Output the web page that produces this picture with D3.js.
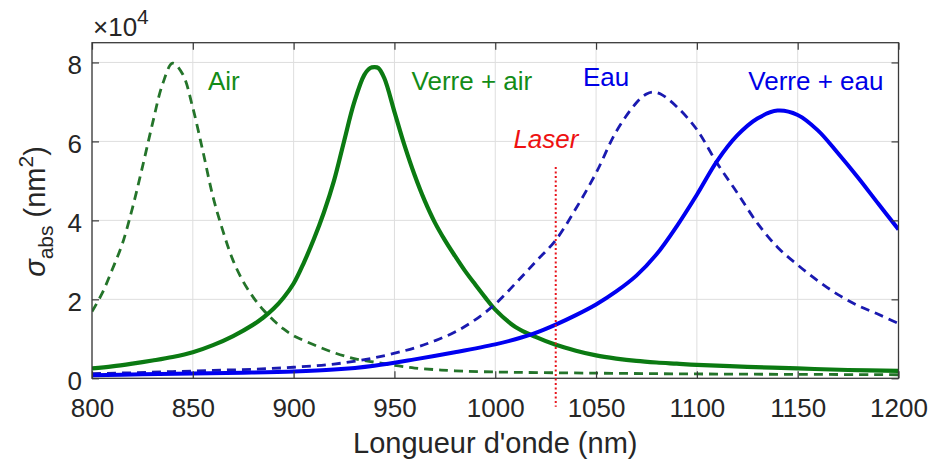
<!DOCTYPE html>
<html>
<head>
<meta charset="utf-8">
<script src="https://cdn.jsdelivr.net/npm/d3@7"></script>
<style>
  html, body { margin: 0; padding: 0; background: #fff; }
  svg { display: block; font-family: "Liberation Sans", Arial, sans-serif; }
</style>
</head>
<body>
<svg id="chart" width="931" height="462"></svg>
<script>
// ---------- data (absorption cross-section, ×10^4 nm²) ----------
const xTicks = [800, 850, 900, 950, 1000, 1050, 1100, 1150, 1200];
const yTicks = [0, 2, 4, 6, 8];
const xDomain = [800, 1200];
const yDomain = [0, 8.5];

// Air (dashed green)
const airNm  = [800,805,810,815,820,825,830,835,840,845,850,855,860,865,870,875,880,885,890,895,900,910,920,930,940,950,960,970,980,1000,1050,1100,1150,1200];
const airVal = [1.69,2.15,2.75,3.4,4.3,5.35,6.45,7.45,7.98,7.7,6.85,5.75,4.6,3.72,2.98,2.45,2.05,1.73,1.47,1.25,1.08,0.85,0.65,0.5,0.41,0.33,0.26,0.22,0.19,0.16,0.13,0.11,0.1,0.09];

// Verre + air (solid green)
const verreAirNm  = [800,810,820,830,840,850,860,870,880,885,890,895,900,905,910,915,920,925,930,935,938,940,942,945,950,955,960,965,970,975,980,985,990,995,1000,1010,1020,1030,1040,1050,1060,1070,1080,1090,1100,1125,1150,1175,1200];
const verreAirVal = [0.25,0.3,0.37,0.45,0.54,0.66,0.84,1.07,1.36,1.54,1.76,2.04,2.4,2.92,3.52,4.2,5.0,6.0,6.98,7.68,7.86,7.88,7.86,7.6,6.75,5.9,5.15,4.5,3.95,3.5,3.1,2.72,2.38,2.05,1.74,1.3,1.05,0.85,0.7,0.58,0.5,0.44,0.4,0.37,0.34,0.29,0.25,0.21,0.19];

// Eau (dashed blue)
const eauNm  = [800,820,840,860,880,900,920,940,960,970,980,990,1000,1010,1020,1030,1040,1050,1060,1070,1075,1078,1082,1090,1100,1110,1120,1130,1140,1150,1160,1170,1180,1190,1200];
const eauVal = [0.12,0.14,0.17,0.2,0.23,0.28,0.36,0.52,0.77,0.95,1.17,1.48,1.88,2.4,2.95,3.5,4.3,5.2,6.25,6.98,7.2,7.25,7.2,6.88,6.3,5.45,4.7,3.93,3.32,2.87,2.47,2.12,1.84,1.62,1.39];

// Verre + eau (solid blue)
const verreEauNm  = [800,825,850,875,900,920,940,960,980,1000,1010,1020,1030,1040,1050,1060,1070,1080,1090,1100,1110,1120,1130,1140,1150,1160,1170,1180,1190,1200];
const verreEauVal = [0.08,0.1,0.12,0.14,0.17,0.22,0.32,0.48,0.66,0.86,0.99,1.15,1.36,1.6,1.87,2.2,2.6,3.14,3.85,4.65,5.5,6.15,6.58,6.78,6.67,6.28,5.7,5.08,4.42,3.77];

// Laser line
const laserNm = 1030;
const laserRange = [-0.72, 5.35];

// Curve labels
const labels = [
  { text: "Air",          nm: 857.5, v: 7.3 },
  { text: "Verre + air",  nm: 958.5, v: 7.3 },
  { text: "Eau",          nm: 1043.5, v: 7.4 },
  { text: "Verre + eau",  nm: 1125.5, v: 7.3 },
  { text: "Laser",        nm: 1009.0, v: 5.83 }
];

// ---------- drawing ----------
const svg = d3.select("#chart");
const L = 92, R = 898.5, T = 42.7, B = 378.3;

const x = d3.scaleLinear().domain(xDomain).range([L, R]);
const y = d3.scaleLinear().domain(yDomain).range([B, T]);

const axisColor = "#3a3a3a";
const textColor = "#262626";

// grid
const grid = svg.append("g");
grid.selectAll(".gx").data(xTicks).join("line")
  .attr("x1", d => x(d)).attr("x2", d => x(d)).attr("y1", T).attr("y2", B)
  .attr("stroke", "#dedede").attr("stroke-width", 1);
grid.selectAll(".gy").data(yTicks).join("line")
  .attr("x1", L).attr("x2", R).attr("y1", d => y(d)).attr("y2", d => y(d))
  .attr("stroke", "#dedede").attr("stroke-width", 1);

// clip
svg.append("clipPath").attr("id", "clip").append("rect")
  .attr("x", L).attr("y", T).attr("width", R - L).attr("height", B - T);

const line = d3.line().x(d => x(d[0])).y(d => y(d[1])).curve(d3.curveCatmullRom.alpha(0.5));
const zip = (a, b) => a.map((v, i) => [v, b[i]]);

const series = [
  { nm: airNm, val: airVal, color: "#24742a", width: 2.8, dash: "9,6" },
  { nm: verreAirNm, val: verreAirVal, color: "#0b7a12", width: 4.2, dash: null },
  { nm: eauNm, val: eauVal, color: "#1a1ab0", width: 2.8, dash: "9,6" },
  { nm: verreEauNm, val: verreEauVal, color: "#0000f0", width: 4.0, dash: null }
];

const lines = svg.append("g").attr("clip-path", "url(#clip)");
series.forEach(s => {
  lines.append("path")
    .attr("d", line(zip(s.nm, s.val)))
    .attr("fill", "none")
    .attr("stroke", s.color)
    .attr("stroke-width", s.width)
    .attr("stroke-dasharray", s.dash)
    .attr("stroke-linejoin", "round");
});

// axes box and ticks (inward ticks on all sides)
const axG = svg.append("g");
const tickLen = 7;
axG.append("rect").attr("x", L).attr("y", T).attr("width", R - L).attr("height", B - T)
  .attr("fill", "none").attr("stroke", axisColor).attr("stroke-width", 1.3);

const xAxisB = d3.axisBottom(x).tickValues(xTicks).tickSize(-tickLen).tickFormat(d3.format("d")).tickPadding(0);
const gxB = axG.append("g").attr("transform", `translate(0,${B})`).call(xAxisB);
gxB.select(".domain").remove();
gxB.selectAll("line").attr("stroke", axisColor).attr("stroke-width", 1.2);
gxB.selectAll("text").attr("font-size", 26).attr("fill", textColor)
  .attr("font-family", "Liberation Sans, Arial, sans-serif").attr("y", 39).attr("dy", 0);

const xAxisT = d3.axisTop(x).tickValues(xTicks).tickSize(-tickLen).tickFormat("");
const gxT = axG.append("g").attr("transform", `translate(0,${T})`).call(xAxisT);
gxT.select(".domain").remove();
gxT.selectAll("line").attr("stroke", axisColor).attr("stroke-width", 1.2);

const yAxisL = d3.axisLeft(y).tickValues(yTicks).tickSize(-tickLen).tickFormat(d3.format("d")).tickPadding(0);
const gyL = axG.append("g").attr("transform", `translate(${L},0)`).call(yAxisL);
gyL.select(".domain").remove();
gyL.selectAll("line").attr("stroke", axisColor).attr("stroke-width", 1.2);
gyL.selectAll("text").attr("font-size", 26).attr("fill", textColor)
  .attr("font-family", "Liberation Sans, Arial, sans-serif").attr("x", -10).attr("dy", 11.5);

const yAxisR = d3.axisRight(y).tickValues(yTicks).tickSize(-tickLen).tickFormat("");
const gyR = axG.append("g").attr("transform", `translate(${R},0)`).call(yAxisR);
gyR.select(".domain").remove();
gyR.selectAll("line").attr("stroke", axisColor).attr("stroke-width", 1.2);

// exponent
const expo = svg.append("text").attr("x", 93).attr("y", 36)
  .attr("font-size", 26).attr("fill", textColor);
expo.append("tspan").text("×10");
expo.append("tspan").attr("font-size", 21).attr("dy", -12).text("4");

// x label
svg.append("text").attr("x", (L + R) / 2).attr("y", 453)
  .attr("text-anchor", "middle").attr("font-size", 29).attr("fill", textColor)
  .text("Longueur d'onde (nm)");

// y label
const yl = svg.append("text").attr("transform", `translate(45,${(T + B) / 2 + 1}) rotate(-90)`)
  .attr("text-anchor", "middle").attr("font-size", 29).attr("fill", textColor);
yl.append("tspan").attr("font-style", "italic").text("σ");
yl.append("tspan").attr("font-size", 21).attr("dy", 8).text("abs");
yl.append("tspan").attr("dy", -8).text(" (nm");
yl.append("tspan").attr("font-size", 21).attr("dy", -12).text("2");
yl.append("tspan").attr("dy", 12).text(")");

// laser
svg.append("line")
  .attr("x1", x(laserNm)).attr("x2", x(laserNm))
  .attr("y1", y(laserRange[1])).attr("y2", y(laserRange[0]))
  .attr("stroke", "#e8141c").attr("stroke-width", 2).attr("stroke-dasharray", "2,2.5");

// curve labels
const labelColors = { "Air": "#138c17", "Verre + air": "#138c17", "Eau": "#0000e6", "Verre + eau": "#0000e6", "Laser": "#ee1111" };
labels.forEach(l => {
  const t = svg.append("text")
    .attr("x", x(l.nm))
    .attr("y", y(l.v))
    .attr("font-size", 26)
    .attr("fill", labelColors[l.text])
    .text(l.text);
  if (l.text === "Laser") t.attr("font-style", "italic");
});
</script>
</body>
</html>
